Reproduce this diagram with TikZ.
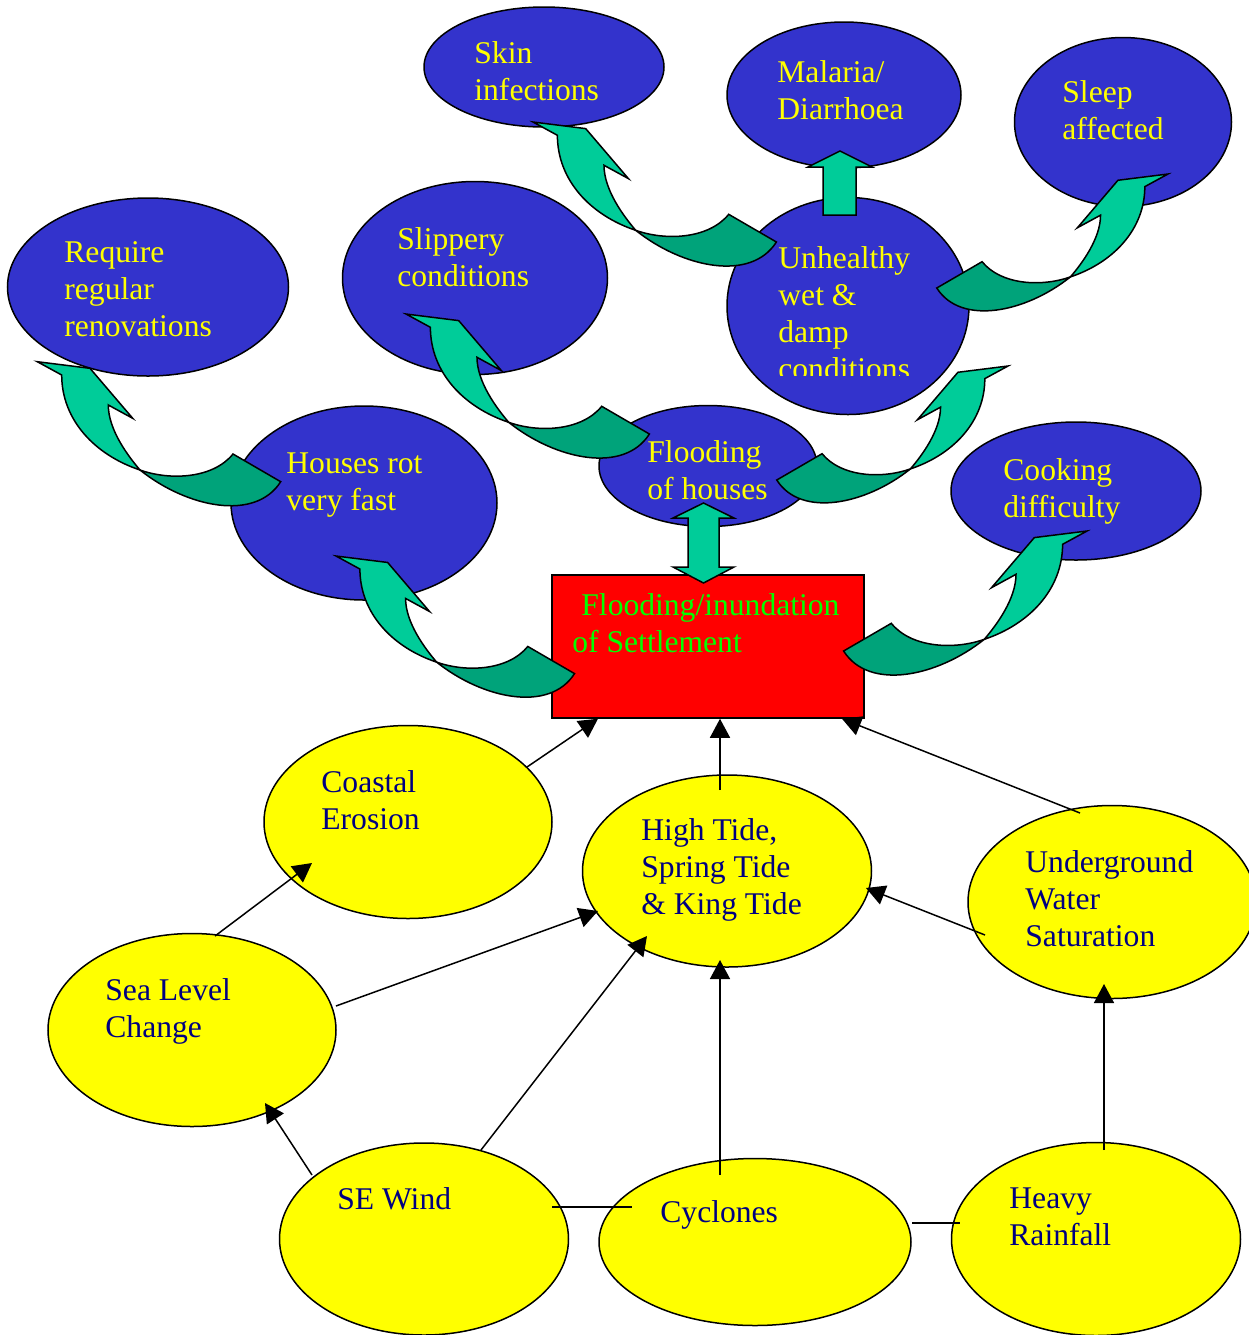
\documentclass[tikz,border=0pt]{standalone}
\usepackage{fontspec}
\setmainfont{Liberation Serif}
\usetikzlibrary{arrows.meta,calc,shapes.geometric}
\definecolor{blueFill}{HTML}{3333CC}
\definecolor{yellowFill}{HTML}{FFFF00}
\definecolor{redFill}{HTML}{FF0000}
\definecolor{arrowLight}{HTML}{00CC99}
\definecolor{arrowDark}{HTML}{00A37A}
\definecolor{navyText}{HTML}{000080}
\definecolor{limeText}{HTML}{00FF00}
\tikzset{
  >={Triangle[length=9.5pt,width=10pt]},
  blob/.style={ellipse,draw=black,line width=0.75pt,inner sep=0pt},
  blueblob/.style={blob,fill=blueFill},
  yellowblob/.style={blob,fill=yellowFill},
  btxt/.style={font=\fontsize{15.8}{18.5}\selectfont,text=yellowFill,align=left,
    anchor=base west,inner sep=0pt},
  ytxt/.style={btxt,text=navyText},
  conn/.style={draw=black,line width=0.75pt},
  blockarr/.style={fill=arrowLight,draw=black,line width=0.75pt},
  curvedarr/.pic={
    \filldraw[fill=arrowLight,draw=black,line width=0.75pt]
      (0,0) -- (52.7,6.6) -- (95.4,56.6) -- (71,43.3)
      .. controls (71,68) and (90.7,94.3) .. (102.7,108.3)
      .. controls (57.7,93.3) and (24.4,58.3) .. (24.4,13.3) -- cycle;
    \filldraw[fill=arrowDark,draw=black,line width=0.75pt]
      (102.7,108.3) .. controls (132.7,119) and (175.7,117) .. (195.7,92.3)
      -- (243.4,120) .. controls (218,160) and (150,146) .. (102.7,108.3) -- cycle;
  },
}

\begin{document}
\begin{tikzpicture}[x=0.5pt,y=-0.5pt]
\useasboundingbox (0,0) rectangle (1249,1335);

% ================= CAUSES =================
\node[yellowblob,minimum width=144pt,minimum height=96.5pt] (coast) at (408,822) {};
\node[yellowblob,minimum width=144.5pt,minimum height=96pt] (tide) at (727,871) {};
\node[yellowblob,minimum width=144pt,minimum height=96.5pt] (under) at (1112,902) {};
\node[yellowblob,minimum width=144pt,minimum height=96.5pt] (sea) at (192,1030) {};
\node[yellowblob,minimum width=144.5pt,minimum height=96pt] (wind) at (424,1239) {};
\node[yellowblob,minimum width=156pt,minimum height=83.5pt] (cyc) at (755,1242) {};
\node[yellowblob,minimum width=144.5pt,minimum height=96.5pt] (rain) at (1096,1239) {};

% text nodes sit on the baseline of their last line
\node[ytxt] (coastT) at (321,829) {Coastal\\Erosion};
\node[ytxt] (tideT) at (641,914) {High Tide,\\Spring Tide\\\& King Tide};
\node[ytxt] (underT) at (1025,946) {Underground\\Water\\Saturation};
\node[ytxt] (seaT) at (105,1037) {Sea Level\\Change};
\node[ytxt] (windT) at (337,1209) {SE Wind};
\node[ytxt] (cycT) at (660,1222) {Cyclones};
\node[ytxt] (rainT) at (1009,1245) {Heavy\\Rainfall};

% ================= SETTLEMENT =================
\node[draw=black,fill=redFill,line width=0.75pt,minimum width=156pt,minimum height=71.5pt,
  inner sep=0pt] (box) at (708,646.5) {};
\node[btxt,text=limeText] (boxT) at (572,652) {\hspace*{4.5pt}Flooding/inundation\\of Settlement};

% ================= EFFECTS =================
\node[blueblob,minimum width=120pt,minimum height=60pt] (skin) at (544,67) {};
\node[blueblob,minimum width=117pt,minimum height=73pt] (mal) at (844,95) {};
\node[blueblob,minimum width=108.5pt,minimum height=84.5pt] (sleep) at (1123,122) {};
\node[blueblob,minimum width=140.5pt,minimum height=89pt] (renov) at (148,287) {};
\node[blueblob,minimum width=132.5pt,minimum height=96.5pt] (slip) at (475,278) {};
\node[blueblob,minimum width=121pt,minimum height=108.5pt] (unh) at (848,306) {};
\node[blueblob,minimum width=133pt,minimum height=97pt] (rot) at (364,503) {};
\node[blueblob,minimum width=109pt,minimum height=60.5pt] (flood) at (708,466) {};
\node[blueblob,minimum width=125pt,minimum height=69pt] (cook) at (1076,491) {};

\node[btxt] (skinT) at (474,100) {Skin\\infections};
\node[btxt] (malT) at (777,119) {Malaria/\\Diarrhoea};
\node[btxt] (sleepT) at (1062,139) {Sleep\\affected};
\node[btxt] (renovT) at (64,336) {Require\\regular\\renovations};
\node[btxt] (slipT) at (397,286) {Slippery\\conditions};
\begin{scope}
  \clip (720,200) rectangle (980,375);
  \node[btxt] (unhT) at (778,379) {Unhealthy\\wet \&\\damp\\conditions};
\end{scope}
\node[btxt] (rotT) at (286,510) {Houses rot\\very fast};
\node[btxt] (floodT) at (647,499) {Flooding\\of houses};
\node[btxt] (cookT) at (1003,517) {Cooking\\difficulty};

% ================= CONNECTORS =================
\draw[conn,->] ($(coast)+(119,-55)$) -- ($(box.south)+(-110,0)$);
\draw[conn,->] ($(tide)+(-7,-81)$) -- ($(box.south)+(12,0)$);
\draw[conn,->] ($(under)+(-32,-89)$) -- ($(box.south)+(134,0)$);
\draw[conn,->] ($(sea)+(23,-94)$) -- ($(coast)+(-96,41)$);
\draw[conn,->] ($(sea)+(144,-24)$) -- ($(tide)+(-129,40)$);
\draw[conn,->] ($(wind)+(57,-89)$) -- ($(tide)+(-80,65)$);
\draw[conn,->] ($(wind)+(-112,-64)$) -- ($(sea)+(73,73)$);
\draw[conn,->] ($(cyc)+(-35,-67)$) -- ($(tide)+(-7,89)$);
\draw[conn,->] ($(under)+(-127,33)$) -- ($(tide)+(139,17)$);
\draw[conn,->] ($(rain)+(8,-89)$) -- ($(under)+(-8,82)$);
\draw[conn] ($(wind)+(128,-32)$) -- ($(cyc)+(-123,-35)$);
\draw[conn] ($(cyc)+(157,-19)$) -- ($(rain)+(-136,-16)$);

% ================= BLOCK ARROWS =================
\filldraw[blockarr] (823,215) -- (823,167) -- (808,167) -- (840,151) -- (872,167)
  -- (856,167) -- (856,215) -- cycle;
\filldraw[blockarr] (688,518) -- (673,518) -- (703.5,503) -- (734,518) -- (719,518)
  -- (719,567) -- (734,567) -- (703.5,583) -- (673,567) -- (688,567) -- cycle;

\pic at (37.3,361.7) {curvedarr};
\pic at (533,122) {curvedarr};
\pic at (406,314) {curvedarr};
\pic[scale=0.98] at (336,556) {curvedarr};
\pic[xscale=-0.95,yscale=0.95] at (1168,174) {curvedarr};
\pic[xscale=-0.95,yscale=0.95] at (1008,366) {curvedarr};
\pic[xscale=-1] at (1087,531) {curvedarr};

\end{tikzpicture}
\end{document}
